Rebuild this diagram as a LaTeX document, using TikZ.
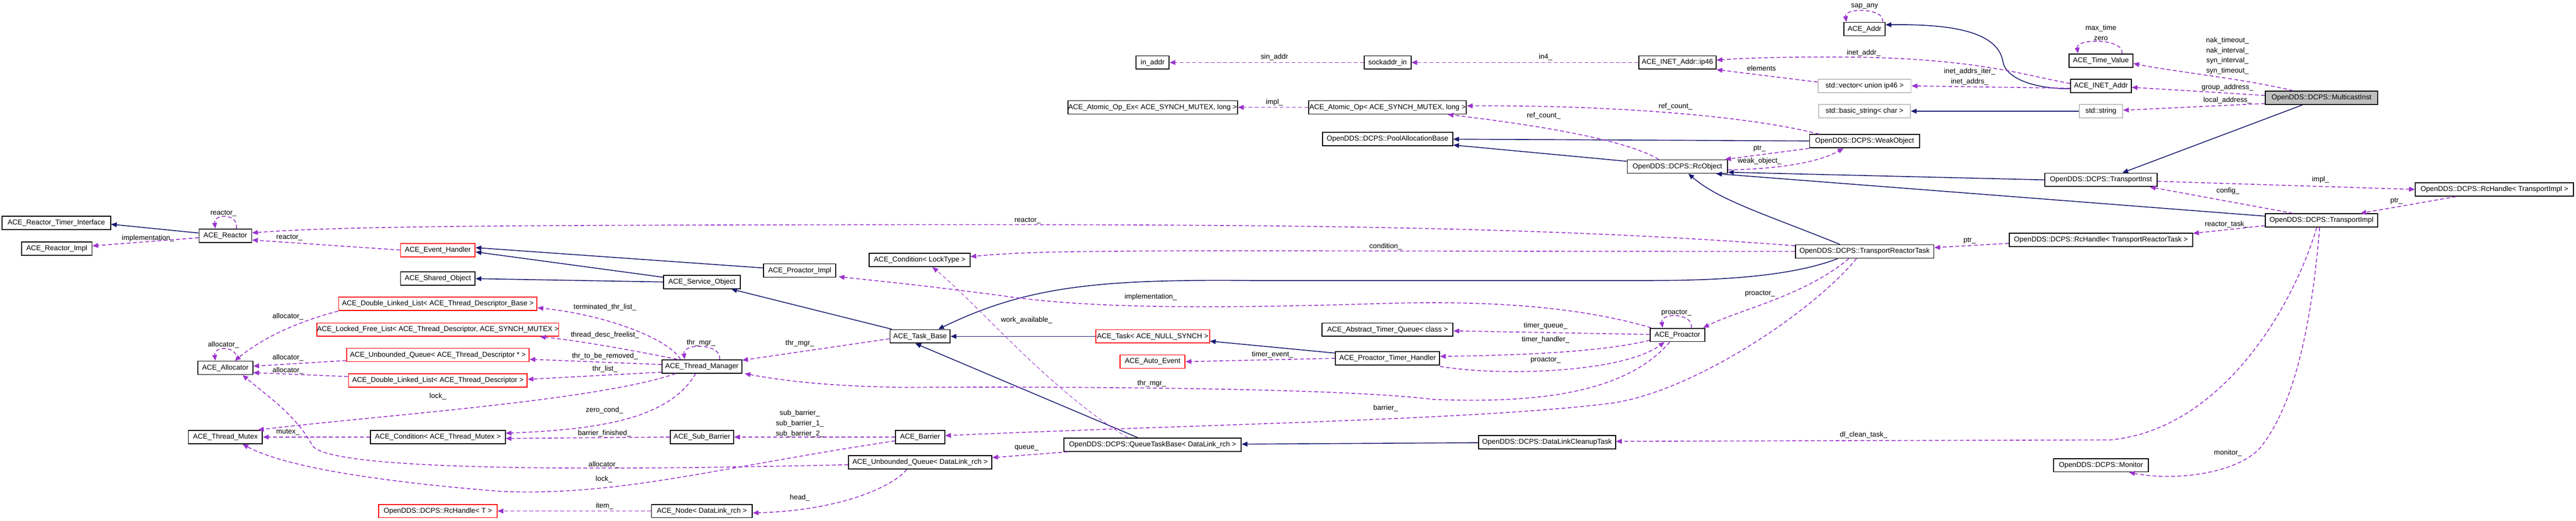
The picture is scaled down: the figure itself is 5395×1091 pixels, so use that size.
\documentclass[tikz,border=0pt]{standalone}
\usepackage{fontspec}
\setmainfont{Liberation Sans}
\usetikzlibrary{arrows.meta,calc}
\definecolor{navy}{HTML}{191970}
\definecolor{purp}{HTML}{9A32CD}
\definecolor{redb}{HTML}{FF0000}
\definecolor{grayb}{HTML}{BFBFBF}
\begin{document}
\begin{tikzpicture}[x=0.01cm,y=-0.01cm,
  box/.style={draw=black,line width=0.55pt,fill=white,minimum height=0.28cm,inner sep=0pt,font=\fontsize{4.25}{5}\selectfont},
  rbox/.style={box,draw=redb},
  gbox/.style={box,draw=grayb},
  lbl/.style={inner sep=0pt,font=\fontsize{4.25}{5.1}\selectfont,align=center},
  inh/.style={draw=navy,line width=0.5pt,-{Triangle[length=1.2mm,width=1mm]}},
  dep/.style={draw=purp,line width=0.5pt,dash pattern=on 0.8mm off 0.5mm,-{Triangle[length=1.2mm,width=1mm]}},
  depthin/.style={dep,line width=0.3pt}]
\useasboundingbox (0,0) rectangle (5395,1091);
% nodes
\node[box,minimum width=2.27cm] (rti) at (118,467) {ACE\_Reactor\_Timer\_Interface};
\node[box,minimum width=1.47cm] (rimpl) at (119,521) {ACE\_Reactor\_Impl};
\node[box,minimum width=1.10cm] (reactor) at (472,494) {ACE\_Reactor};
\node[rbox,minimum width=1.56cm] (evh) at (917,524) {ACE\_Event\_Handler};
\node[box,minimum width=1.56cm] (shared) at (917,584) {ACE\_Shared\_Object};
\node[rbox,minimum width=4.15cm] (dllb) at (917,637) {ACE\_Double\_Linked\_List< ACE\_Thread\_Descriptor\_Base >};
\node[rbox,minimum width=5.06cm] (lfl) at (917,691) {ACE\_Locked\_Free\_List< ACE\_Thread\_Descriptor, ACE\_SYNCH\_MUTEX >};
\node[box,minimum width=1.15cm] (alloc) at (472,771) {ACE\_Allocator};
\node[rbox,minimum width=3.82cm] (uqd) at (917,744) {ACE\_Unbounded\_Queue< ACE\_Thread\_Descriptor * >};
\node[rbox,minimum width=3.74cm] (dlld) at (917,797) {ACE\_Double\_Linked\_List< ACE\_Thread\_Descriptor >};
\node[box,minimum width=1.55cm] (tmutex) at (472,916) {ACE\_Thread\_Mutex};
\node[box,minimum width=2.82cm] (condm) at (917,916) {ACE\_Condition< ACE\_Thread\_Mutex >};
\node[rbox,minimum width=2.48cm] (rch) at (917,1071) {OpenDDS::DCPS::RcHandle< T >};
\node[box,minimum width=1.67cm] (tmgr) at (1470,768) {ACE\_Thread\_Manager};
\node[box,minimum width=1.33cm] (subb) at (1470,916) {ACE\_Sub\_Barrier};
\node[box,minimum width=2.11cm] (anode) at (1470,1071) {ACE\_Node< DataLink\_rch >};
\node[box,minimum width=1.51cm] (pimpl) at (1675,567) {ACE\_Proactor\_Impl};
\node[box,minimum width=1.61cm] (svc) at (1470,591) {ACE\_Service\_Object};
\node[box,minimum width=2.11cm] (condl) at (1926,545) {ACE\_Condition< LockType >};
\node[box,minimum width=1.26cm] (taskb) at (1927,705) {ACE\_Task\_Base};
\node[rbox,minimum width=2.38cm] (task) at (2414,705) {ACE\_Task< ACE\_NULL\_SYNCH >};
\node[rbox,minimum width=1.36cm] (autoev) at (2414,758) {ACE\_Auto\_Event};
\node[box,minimum width=1.03cm] (barrier) at (1927,916) {ACE\_Barrier};
\node[box,minimum width=3.71cm] (qtb) at (2414,932) {OpenDDS::DCPS::QueueTaskBase< DataLink\_rch >};
\node[box,minimum width=3.00cm] (uqdl) at (1927,969) {ACE\_Unbounded\_Queue< DataLink\_rch >};
\node[box,minimum width=0.69cm] (inaddr) at (2414,131) {in\_addr};
\node[box,minimum width=0.98cm] (sockin) at (2906,131) {sockaddr\_in};
\node[box,minimum width=3.55cm] (atex) at (2414,225) {ACE\_Atomic\_Op\_Ex< ACE\_SYNCH\_MUTEX, long >};
\node[box,minimum width=3.30cm] (atop) at (2906,225) {ACE\_Atomic\_Op< ACE\_SYNCH\_MUTEX, long >};
\node[box,minimum width=2.73cm] (pool) at (2906,291) {OpenDDS::DCPS::PoolAllocationBase};
\node[box,minimum width=2.74cm] (atq) at (2906,691) {ACE\_Abstract\_Timer\_Queue< class >};
\node[box,minimum width=2.18cm] (pth) at (2906,751) {ACE\_Proactor\_Timer\_Handler};
\node[box,minimum width=0.86cm] (addr) at (3905,61) {ACE\_Addr};
\node[box,minimum width=1.62cm] (ip46) at (3513,131) {ACE\_INET\_Addr::ip46};
\node[gbox,minimum width=1.95cm] (vec) at (3905,180) {std::vector< union ip46 >};
\node[gbox,minimum width=1.92cm] (bstr) at (3905,233) {std::basic\_string< char >};
\node[box,minimum width=2.30cm] (weak) at (3905,296) {OpenDDS::DCPS::WeakObject};
\node[box,minimum width=2.10cm] (rcobj) at (3513,349) {OpenDDS::DCPS::RcObject};
\node[box,minimum width=2.90cm] (trt) at (3905,527) {OpenDDS::DCPS::TransportReactorTask};
\node[box,minimum width=1.14cm] (proactor) at (3513,702) {ACE\_Proactor};
\node[box,minimum width=2.87cm] (dlct) at (3240,927) {OpenDDS::DCPS::DataLinkCleanupTask};
\node[box,minimum width=1.34cm] (tval) at (4400,127) {ACE\_Time\_Value};
\node[box,minimum width=1.27cm] (inet) at (4400,180) {ACE\_INET\_Addr};
\node[gbox,minimum width=0.91cm] (str) at (4400,233) {std::string};
\node[box,fill=grayb,minimum width=2.35cm] (mcast) at (4862,205) {OpenDDS::DCPS::MulticastInst};
\node[box,minimum width=2.35cm] (tinst) at (4400,377) {OpenDDS::DCPS::TransportInst};
\node[box,minimum width=3.31cm] (rcti) at (5224,397) {OpenDDS::DCPS::RcHandle< TransportImpl >};
\node[box,minimum width=2.35cm] (timpl) at (4862,462) {OpenDDS::DCPS::TransportImpl};
\node[box,minimum width=3.84cm] (rctrt) at (4400,503) {OpenDDS::DCPS::RcHandle< TransportReactorTask >};
\node[box,minimum width=1.98cm] (monitor) at (4400,975) {OpenDDS::DCPS::Monitor};
% inheritance
\draw[inh] (reactor) -- ($(rti.east)+(0,3)$);
\draw[inh] (pimpl) -- ($(evh.east)+(0,-5)$);
\draw[inh] ($(svc.west)+(0,-10)$) -- ($(evh.east)+(0,4)$);
\draw[inh] (svc.west) -- (shared.east);
\draw[inh] ($(taskb.north west)+(5,0)$) -- ($(svc.south east)+(-20,0)$);
\draw[inh] (task) -- (taskb);
\draw[inh] ($(pth.west)+(0,-11)$) -- ($(task.east)+(0,10)$);
\draw[inh] ($(qtb.north west)+(155,0)$) -- ($(taskb.south)+(-10,0)$);
\draw[inh] (dlct) -- (qtb);
\draw[inh] (weak) -- (pool);
\draw[inh] ($(rcobj.north west)+(0,4)$) -- ($(pool.south east)+(0,-2)$);
\draw[inh] ($(trt.north)+(-52,0)$) .. controls (3700,450) and (3600,420) .. ($(rcobj.south)+(23,0)$);
\draw[inh] ($(trt.south)+(-56,0)$) .. controls (3750,580) and (3600,588) .. (3450,588) -- (2620,588) .. controls (2300,585) and (2150,600) .. ($(taskb.north)+(38,0)$);
\draw[inh] (tinst.west) -- ($(rcobj.east)+(0,12)$);
\draw[inh] ($(timpl.west)+(0,-9)$) -- ($(rcobj.south east)+(-25,0)$);
\draw[inh] ($(mcast.south)+(-40,0)$) -- ($(tinst.north)+(45,0)$);
\draw[inh] (str) -- (bstr);
\draw[inh] ($(inet.west)+(0,6)$) .. controls (4250,186) and (4200,160) .. (4195,130) .. controls (4185,70) and (4100,50) .. ($(addr.east)+(0,-9)$);
% dependencies
\draw[dep] ($(reactor.north)+(23,0)$) .. controls +(6,-32) and +(-4,-32) .. ($(reactor.north)+(-21,0)$);
\node[lbl] (l1) at (468,447) {reactor\_};
\draw[dep] (reactor) -- (rimpl);
\node[lbl] (l2) at (310,499) {implementation\_};
\draw[dep] (evh.west) -- ($(reactor.east)+(0,9)$);
\node[lbl] (l3) at (606,498) {reactor\_};
\draw[dep] ($(trt.west)+(0,-12)$) .. controls (3200,472) and (2600,470) .. (1800,471) .. controls (1000,472) and (700,475) .. ($(reactor.east)+(0,-6)$);
\node[lbl] (l4) at (2152,462) {reactor\_};
\draw[dep] ($(tmgr.north)+(-45,0)$) .. controls (1400,710) and (1270,660) .. ($(dllb.east)+(0,8)$);
\node[lbl] (l5) at (1267,644) {terminated\_thr\_list\_};
\draw[dep] ($(tmgr.north)+(-52,0)$) .. controls (1330,735) and (1200,712) .. ($(lfl.south east)+(-40,0)$);
\node[lbl] (l6) at (1267,702) {thread\_desc\_freelist\_};
\draw[dep] ($(tmgr.west)+(0,-4)$) -- ($(uqd.east)+(0,9)$);
\node[lbl] (l7) at (1267,746) {thr\_to\_be\_removed\_};
\draw[dep] ($(tmgr.west)+(0,12)$) -- ($(dlld.east)+(0,-2)$);
\node[lbl] (l8) at (1267,774) {thr\_list\_};
\draw[dep] ($(tmgr.north)+(37,0)$) .. controls +(5,-34) and +(-5,-34) .. ($(tmgr.north)+(-36,0)$);
\node[lbl] (l9) at (1468,719) {thr\_mgr\_};
\draw[dep] ($(tmgr.south)+(-55,0)$) .. controls (1250,840) and (800,870) .. ($(tmutex.north east)+(-10,0)$);
\node[lbl] (l10) at (917,831) {lock\_};
\draw[dep] ($(tmgr.south)+(-13,0)$) .. controls (1400,880) and (1250,900) .. ($(condm.east)+(0,-8)$);
\node[lbl] (l11) at (1266,860) {zero\_cond\_};
\draw[dep] (subb.west) -- ($(condm.east)+(0,3)$);
\node[lbl] (l12) at (1266,908) {barrier\_finished\_};
\draw[dep] (condm) -- (tmutex);
\node[lbl] (l13) at (603,906) {mutex\_};
\draw[dep] ($(alloc.north)+(23,0)$) .. controls +(6,-32) and +(-4,-32) .. ($(alloc.north)+(-21,0)$);
\node[lbl] (l14) at (468,723) {allocator\_};
\draw[dep] (dllb.south west) .. controls (640,670) and (560,700) .. ($(alloc.north)+(20,0)$);
\node[lbl] (l15) at (603,663) {allocator\_};
\draw[dep] (uqd) -- (alloc);
\node[lbl] (l16) at (603,750) {allocator\_};
\draw[dep] (dlld) -- ($(alloc.east)+(0,10)$);
\node[lbl] (l17) at (603,777) {allocator\_};
\draw[dep] ($(uqdl.west)+(0,5)$) .. controls (1300,985) and (700,990) .. (655,935) .. controls (620,870) and (560,830) .. ($(alloc.south)+(36,0)$);
\node[lbl] (l18) at (1265,974) {allocator\_};
\draw[dep] ($(barrier.west)+(0,8)$) .. controls (1500,980) and (1300,1040) .. (1050,1030) .. controls (800,1010) and (600,980) .. ($(tmutex.south)+(36,0)$);
\node[lbl] (l19) at (1265,1004) {lock\_};
\draw[dep] (barrier) -- (subb);
\node[lbl] (l20) at (1675,888) {sub\_barrier\_\\[1pt]sub\_barrier\_1\_\\[1pt]sub\_barrier\_2\_};
\draw[dep] ($(uqdl.south)+(-28,0)$) .. controls (1870,1020) and (1760,1070) .. ($(anode.east)+(0,4)$);
\node[lbl] (l21) at (1675,1043) {head\_};
\draw[dep] (anode) -- (rch);
\node[lbl] (l22) at (1266,1060) {item\_};
\draw[dep] ($(qtb.south west)+(10,0)$) -- ($(uqdl.east)+(0,-10)$);
\node[lbl] (l23) at (2150,939) {queue\_};
\draw[depthin] ($(qtb.north)+(-52,0)$) .. controls (2200,820) and (2050,640) .. ($(condl.south)+(27,0)$);
\node[lbl] (l24) at (2150,671) {work\_available\_};
\draw[dep] ($(trt.south)+(-17,0)$) .. controls (3800,650) and (3550,820) .. (3375,845) .. controls (3100,880) and (2500,890) .. ($(barrier.east)+(0,-3)$);
\node[lbl] (l25) at (2902,856) {barrier\_};
\draw[dep] ($(trt.south)+(-33,0)$) .. controls (3780,620) and (3640,650) .. ($(proactor.north east)+(-4,0)$);
\node[lbl] (l26) at (3686,615) {proactor\_};
\draw[dep] ($(proactor.north)+(29,0)$) .. controls +(5,-32) and +(-5,-32) .. ($(proactor.north)+(-31,0)$);
\node[lbl] (l27) at (3511,655) {proactor\_};
\draw[dep] (proactor) -- (atq);
\node[lbl] (l28) at (3237,683) {timer\_queue\_};
\draw[dep] ($(proactor.west)+(0,11)$) .. controls (3350,740) and (3150,745) .. ($(pth.east)+(0,-4)$);
\node[lbl] (l29) at (3237,712) {timer\_handler\_};
\draw[dep] ($(pth.east)+(0,17)$) .. controls (3150,790) and (3400,780) .. ($(proactor.south)+(-27,0)$);
\node[lbl] (l30) at (3237,755) {proactor\_};
\draw[dep] ($(proactor.south)+(-16,0)$) .. controls (3400,830) and (3200,845) .. (3000,837) .. controls (2800,812) and (2200,810) .. (1900,812) .. controls (1750,810) and (1650,800) .. ($(tmgr.south east)+(5,0)$);
\node[lbl] (l31) at (2412,804) {thr\_mgr\_};
\draw[dep] ($(taskb.west)+(0,5)$) -- ($(tmgr.north east)+(0,2)$);
\node[lbl] (l32) at (1675,720) {thr\_mgr\_};
\draw[dep] (pth.west) -- (autoev.east);
\node[lbl] (l33) at (2665,743) {timer\_event\_};
\draw[dep] ($(proactor.north west)+(3,0)$) .. controls (3300,640) and (3100,630) .. (2900,636) .. controls (2600,645) and (2300,650) .. (2100,620) .. controls (1950,600) and (1850,590) .. ($(pimpl.south east)+(5,-2)$);
\node[lbl] (l34) at (2410,622) {implementation\_};
\draw[dep] (trt.west) .. controls (3000,527) and (2500,524) .. (2300,527) .. controls (2150,528) and (2080,533) .. ($(condl.east)+(0,-7)$);
\node[lbl] (l35) at (2902,517) {condition\_};
\draw[dep] ($(rctrt.west)+(0,7)$) -- ($(trt.east)+(0,-8)$);
\node[lbl] (l36) at (4125,504) {ptr\_};
\draw[dep] ($(timpl.west)+(0,11)$) -- ($(rctrt.north east)+(0,1)$);
\node[lbl] (l37) at (4663,470) {reactor\_task\_};
\draw[dep] ($(timpl.south)+(-10,0)$) .. controls (4800,650) and (4650,900) .. (4420,922) -- ($(dlct.east)+(0,-2)$);
\node[lbl] (l38) at (3903,912) {dl\_clean\_task\_};
\draw[dep] ($(timpl.south)+(-4,0)$) .. controls (4840,700) and (4800,850) .. (4740,930) .. controls (4700,990) and (4560,1010) .. ($(monitor.south)+(59,0)$);
\node[lbl] (l39) at (4666,949) {monitor\_};
\draw[dep] ($(tinst.east)+(0,3)$) -- (rcti.west);
\node[lbl] (l40) at (4860,377) {impl\_};
\draw[dep] ($(rcti.south)+(-80,0)$) -- ($(timpl.north east)+(-37,0)$);
\node[lbl] (l41) at (5019,421) {ptr\_};
\draw[dep] ($(timpl.north)+(-60,0)$) -- ($(tinst.south east)+(-16,0)$);
\node[lbl] (l42) at (4666,400) {config\_};
\draw[dep] ($(mcast.north)+(-60,0)$) .. controls (4700,165) and (4550,150) .. ($(tval.east)+(0,6)$);
\node[lbl] (l43) at (4665,117) {nak\_timeout\_\\[1pt]nak\_interval\_\\[1pt]syn\_interval\_\\[1pt]syn\_timeout\_};
\draw[dep] ($(mcast.west)+(0,-5)$) -- ($(inet.east)+(0,3)$);
\node[lbl] (l44) at (4665,183) {group\_address\_};
\draw[dep] ($(mcast.west)+(0,12)$) -- ($(str.east)+(0,-2)$);
\node[lbl] (l45) at (4665,210) {local\_address\_};
\draw[dep] ($(tval.north)+(44,0)$) .. controls +(5,-32) and +(-5,-32) .. ($(tval.north)+(-48,0)$);
\node[lbl] (l46) at (4400,69) {max\_time\\[1pt]zero};
\draw[dep] ($(addr.north)+(38,0)$) .. controls +(5,-30) and +(-5,-30) .. ($(addr.north)+(-38,0)$);
\node[lbl] (l47) at (3905,13) {sap\_any};
\draw[dep] ($(inet.west)+(0,-5)$) .. controls (4250,160) and (4150,125) .. (3900,120) .. controls (3750,118) and (3650,122) .. ($(ip46.east)+(0,-5)$);
\node[lbl] (l48) at (3903,111) {inet\_addr\_};
\draw[dep] ($(inet.west)+(0,5)$) -- (vec.east);
\node[lbl] (l49) at (4125,161) {inet\_addrs\_iter\_\\[1pt]inet\_addrs\_};
\draw[dep] ($(vec.west)+(0,-8)$) -- (ip46.south east);
\node[lbl] (l50) at (3689,143) {elements};
\draw[dep] (ip46) -- (sockin);
\node[lbl] (l51) at (3237,120) {in4\_};
\draw[dep] (sockin) -- (inaddr);
\node[lbl] (l52) at (2669,120) {sin\_addr};
\draw[dep] (atop) -- (atex);
\node[lbl] (l53) at (2669,215) {impl\_};
\draw[dep] ($(weak.north west)+(21,0)$) .. controls (3650,240) and (3350,220) .. ($(atop.east)+(0,-3)$);
\node[lbl] (l54) at (3509,223) {ref\_count\_};
\draw[dep] ($(rcobj.north)+(-39,0)$) .. controls (3400,290) and (3200,260) .. ($(atop.south east)+(-40,0)$);
\node[lbl] (l55) at (3233,243) {ref\_count\_};
\draw[dep] ($(weak.south west)+(0,0)$) -- ($(rcobj.north east)+(-6,0)$);
\node[lbl] (l56) at (3685,311) {ptr\_};
\draw[dep] ($(rcobj.east)+(0,7)$) .. controls (3700,355) and (3800,345) .. ($(weak.south)+(-44,0)$);
\node[lbl] (l57) at (3685,338) {weak\_object\_};
\end{tikzpicture}
\end{document}
